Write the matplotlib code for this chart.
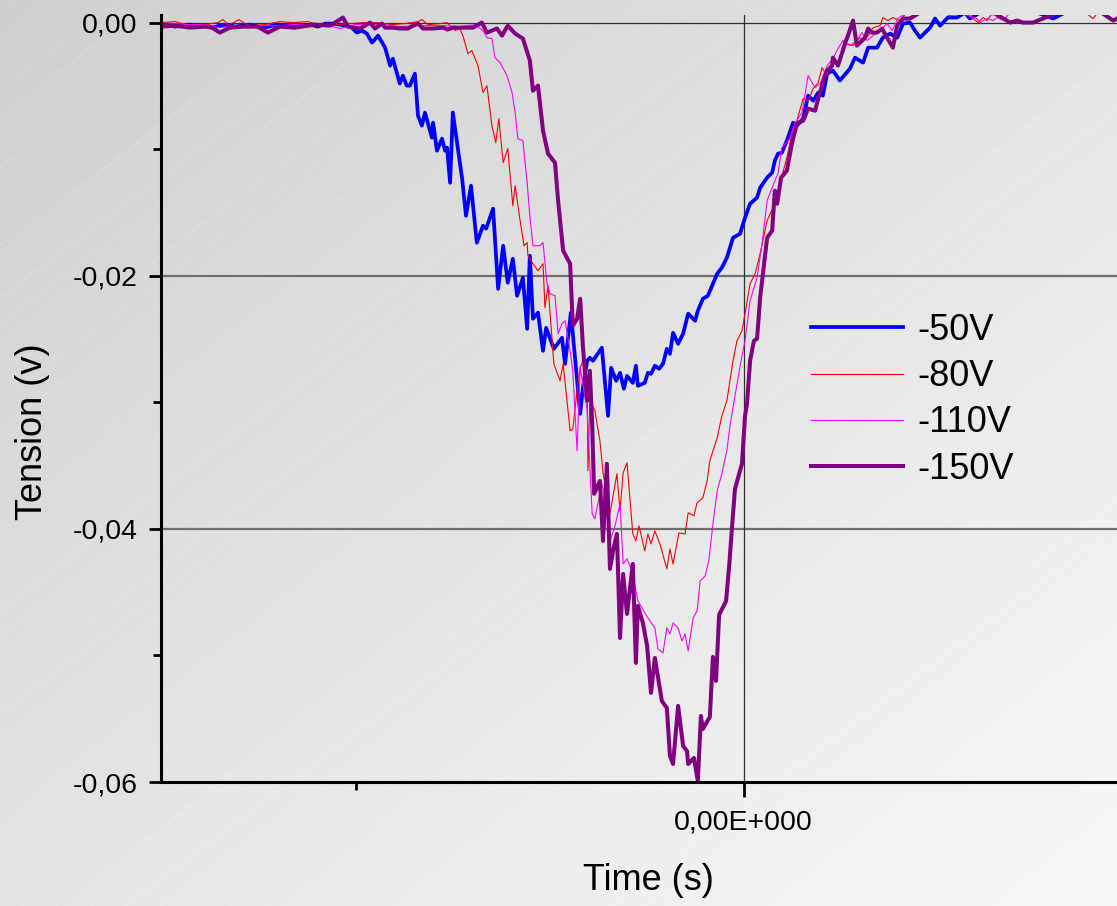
import numpy as np
import matplotlib
matplotlib.use("Agg")
import matplotlib.pyplot as plt
from matplotlib.ticker import FixedLocator, FuncFormatter

plt.rcParams['font.family'] = ['Liberation Sans', 'DejaVu Sans']

# time: one unit = spacing between the x ticks; tension in mV
t_50 = [-1.505, -1.487, -1.469, -1.451, -1.430, -1.410, -1.391, -1.373, -1.353, -1.332,
        -1.314, -1.293, -1.275, -1.255, -1.236, -1.218, -1.198, -1.177, -1.159, -1.138,
        -1.120, -1.099, -1.081, -1.061, -1.043, -1.025, -1.012, -0.999, -0.986, -0.973,
        -0.960, -0.944, -0.926, -0.913, -0.906, -0.888, -0.880, -0.870, -0.862, -0.849,
        -0.841, -0.831, -0.823, -0.805, -0.802, -0.792, -0.779, -0.771, -0.766, -0.758,
        -0.751, -0.727, -0.717, -0.704, -0.689, -0.673, -0.665, -0.647, -0.634, -0.621,
        -0.609, -0.596, -0.585, -0.570, -0.559, -0.552, -0.544, -0.531, -0.518, -0.510,
        -0.490, -0.469, -0.461, -0.446, -0.441, -0.422, -0.415, -0.404, -0.397, -0.389,
        -0.366, -0.350, -0.342, -0.329, -0.319, -0.309, -0.301, -0.286, -0.278, -0.273,
        -0.255, -0.247, -0.239, -0.229, -0.218, -0.208, -0.198, -0.190, -0.182, -0.169,
        -0.156, -0.143, -0.125, -0.118, -0.105, -0.092, -0.079, -0.068, -0.056, -0.043,
        -0.027, -0.009, 0.004, 0.017, 0.035, 0.043, 0.061, 0.074, 0.081, 0.089,
        0.099, 0.112, 0.128, 0.138, 0.154, 0.167, 0.180, 0.193, 0.205, 0.216,
        0.231, 0.249, 0.275, 0.288, 0.309, 0.322, 0.345, 0.360, 0.379, 0.397,
        0.412, 0.430, 0.443, 0.456, 0.482, 0.495, 0.508, 0.528, 0.552, 0.572,
        0.585, 0.611, 0.650, 0.689, 0.727, 0.766, 0.800, 0.831, 0.870, 0.908,
        0.947, 0.965]
v_50 = [-0.24, -0.16, -0.32, -0.24, -0.16, -0.32, -0.24, -0.40, -0.24, -0.16,
        -0.32, -0.24, -0.16, -0.32, -0.40, -0.24, -0.16, -0.24, -0.32, -0.24,
        -0.16, -0.32, -0.08, -0.08, -0.16, -0.24, -0.40, -0.79, -0.63, -0.87,
        -1.58, -1.03, -1.98, -3.40, -2.85, -4.82, -4.19, -4.98, -4.98, -4.03,
        -7.35, -8.14, -7.11, -9.09, -7.91, -10.12, -9.17, -10.12, -9.88, -12.65,
        -7.11, -12.33, -15.26, -12.89, -17.39, -16.05, -16.28, -14.70, -21.03, -17.63,
        -20.55, -18.66, -21.58, -20.16, -24.19, -18.42, -23.40, -22.92, -25.93, -24.11,
        -25.77, -24.90, -26.96, -22.92, -24.58, -30.91, -28.85, -26.72, -26.48, -26.72,
        -25.69, -31.07, -27.27, -28.30, -27.67, -28.93, -27.91, -28.46, -27.11, -28.70,
        -28.46, -27.67, -27.75, -27.11, -27.35, -26.96, -25.77, -26.17, -24.51, -25.38,
        -24.58, -23.00, -23.56, -22.77, -21.82, -21.58, -20.63, -19.84, -19.37, -18.58,
        -17.00, -16.68, -15.41, -14.31, -13.83, -13.04, -12.25, -11.86, -10.91, -10.36,
        -10.28, -9.33, -7.91, -8.14, -7.59, -5.77, -6.17, -5.53, -5.77, -4.03,
        -3.79, -4.58, -3.64, -2.77, -3.16, -1.98, -1.98, -1.19, -0.87, -1.19,
        -0.08, 0.00, -0.63, -1.19, -0.40, 0.32, -0.24, 0.40, 0.40, 0.79,
        0.32, 0.79, 0.95, 0.79, 0.95, 0.71, 0.32, 0.79, 0.95, 0.79,
        0.87, 0.79]

t_80 = [-1.505, -1.469, -1.430, -1.391, -1.358, -1.345, -1.332, -1.317, -1.304, -1.288,
        -1.270, -1.236, -1.198, -1.164, -1.125, -1.089, -1.050, -1.017, -0.983, -0.947,
        -0.908, -0.875, -0.841, -0.831, -0.815, -0.784, -0.766, -0.745, -0.733, -0.725,
        -0.712, -0.702, -0.686, -0.673, -0.663, -0.650, -0.640, -0.632, -0.621, -0.609,
        -0.596, -0.590, -0.578, -0.567, -0.559, -0.557, -0.544, -0.531, -0.518, -0.513,
        -0.505, -0.490, -0.474, -0.466, -0.448, -0.441, -0.430, -0.422, -0.415, -0.404,
        -0.402, -0.397, -0.384, -0.371, -0.363, -0.345, -0.327, -0.319, -0.311, -0.301,
        -0.286, -0.278, -0.270, -0.255, -0.247, -0.239, -0.229, -0.216, -0.198, -0.190,
        -0.182, -0.167, -0.151, -0.143, -0.128, -0.120, -0.105, -0.094, -0.087, -0.068,
        -0.056, -0.043, -0.027, -0.017, -0.004, 0.004, 0.017, 0.030, 0.043, 0.061,
        0.081, 0.094, 0.112, 0.128, 0.138, 0.154, 0.167, 0.180, 0.193, 0.203,
        0.216, 0.229, 0.242, 0.255, 0.267, 0.283, 0.301, 0.309, 0.322, 0.335,
        0.353, 0.360, 0.373, 0.386, 0.404, 0.417, 0.443, 0.469, 0.495, 0.534,
        0.572, 0.593, 0.606, 0.619, 0.629, 0.642, 0.689, 0.740, 0.792, 0.844,
        0.890, 0.903, 0.916, 0.965]
v_80 = [0.00, 0.08, -0.24, -0.16, 0.00, 0.24, -0.16, 0.00, 0.24, -0.08,
        -0.24, -0.16, 0.08, 0.00, 0.08, -0.24, -0.16, -0.08, 0.00, 0.00,
        -0.16, -0.08, 0.08, 0.24, -0.16, -0.08, 0.00, -0.63, -0.47, -1.03,
        -2.45, -2.21, -3.40, -5.53, -4.98, -8.14, -9.49, -7.59, -11.07, -9.96,
        -14.47, -12.89, -15.49, -17.63, -17.39, -18.42, -19.05, -19.60, -19.05, -22.53,
        -20.79, -26.96, -28.30, -26.96, -32.25, -32.09, -29.09, -27.27, -26.72, -27.91,
        -35.41, -29.88, -30.67, -33.04, -35.57, -38.81, -35.65, -38.58, -35.57, -34.78,
        -40.40, -40.95, -39.76, -41.74, -40.40, -41.19, -40.16, -41.19, -43.16, -41.58,
        -42.77, -40.32, -40.40, -38.73, -38.97, -37.94, -37.55, -36.21, -34.62, -32.81,
        -31.07, -29.88, -26.72, -25.14, -24.35, -23.00, -20.63, -19.84, -18.26, -15.65,
        -14.31, -12.73, -10.67, -8.30, -7.75, -6.01, -6.17, -5.22, -4.74, -3.56,
        -4.19, -3.24, -3.16, -2.37, -1.66, -1.82, -1.19, -1.42, -1.03, -0.40,
        -0.24, 0.40, 0.16, 0.40, 0.16, 0.63, 0.79, 0.63, 0.79, 0.63,
        0.79, 0.32, 0.00, 0.40, 0.16, 0.71, 0.87, 0.79, 0.95, 0.79,
        0.63, 0.32, 0.79, 0.87]

t_110 = [-1.505, -1.469, -1.430, -1.391, -1.353, -1.314, -1.275, -1.236, -1.198, -1.159,
         -1.120, -1.081, -1.043, -1.004, -0.965, -0.926, -0.888, -0.849, -0.810, -0.771,
         -0.733, -0.694, -0.673, -0.663, -0.650, -0.642, -0.629, -0.611, -0.598, -0.590,
         -0.583, -0.570, -0.559, -0.552, -0.544, -0.526, -0.518, -0.508, -0.500, -0.487,
         -0.479, -0.469, -0.461, -0.448, -0.441, -0.430, -0.422, -0.404, -0.391, -0.384,
         -0.366, -0.358, -0.345, -0.332, -0.319, -0.311, -0.301, -0.288, -0.273, -0.255,
         -0.247, -0.229, -0.221, -0.208, -0.198, -0.190, -0.182, -0.169, -0.159, -0.151,
         -0.143, -0.130, -0.120, -0.112, -0.099, -0.089, -0.079, -0.068, -0.056, -0.043,
         -0.035, -0.022, -0.004, 0.004, 0.017, 0.035, 0.048, 0.061, 0.076, 0.089,
         0.099, 0.120, 0.133, 0.151, 0.167, 0.185, 0.198, 0.216, 0.231, 0.244,
         0.257, 0.275, 0.293, 0.306, 0.319, 0.335, 0.353, 0.371, 0.384, 0.399,
         0.417, 0.456, 0.508, 0.559, 0.603, 0.611, 0.629, 0.645, 0.655, 0.671,
         0.689, 0.740, 0.792, 0.844, 0.895, 0.965]
v_110 = [-0.16, -0.08, -0.16, -0.16, -0.40, -0.24, -0.32, -0.24, -0.24, -0.16,
         -0.16, -0.16, -0.47, -0.16, -0.16, -0.16, -0.32, -0.24, -0.24, -0.24,
         -0.32, -0.16, -0.63, -1.19, -1.26, -2.77, -3.16, -4.19, -5.53, -7.11,
         -9.17, -9.33, -12.65, -15.26, -17.63, -17.63, -17.39, -20.55, -21.42, -21.58,
         -24.58, -23.79, -23.56, -25.93, -27.51, -33.83, -27.27, -30.67, -38.81, -39.21,
         -36.44, -37.39, -40.95, -39.76, -38.02, -42.77, -42.37, -43.32, -45.69, -46.64,
         -47.03, -47.83, -49.49, -49.80, -47.83, -48.30, -47.43, -47.83, -48.85, -48.30,
         -49.64, -47.03, -46.48, -44.11, -43.72, -42.37, -39.60, -37.00, -35.65, -33.83,
         -31.86, -29.49, -26.32, -25.14, -21.98, -20.16, -17.47, -14.07, -12.89, -11.94,
         -9.88, -9.17, -7.98, -7.11, -4.19, -5.14, -4.82, -3.40, -2.85, -2.06,
         -1.42, -1.82, -1.42, -0.79, -1.42, -1.03, -0.63, -0.08, -0.63, 0.32,
         0.71, 0.79, 0.63, 0.79, 0.32, 0.00, 0.32, 0.16, 0.40, 0.16,
         0.79, 0.87, 0.71, 0.87, 0.79, 0.87]

t_150 = [-1.505, -1.469, -1.430, -1.391, -1.373, -1.353, -1.327, -1.293, -1.255, -1.229,
         -1.198, -1.159, -1.107, -1.068, -1.035, -1.022, -0.991, -0.965, -0.952, -0.934,
         -0.926, -0.906, -0.888, -0.867, -0.854, -0.841, -0.828, -0.802, -0.776, -0.764,
         -0.751, -0.733, -0.699, -0.676, -0.663, -0.637, -0.624, -0.609, -0.590, -0.570,
         -0.552, -0.544, -0.531, -0.518, -0.505, -0.487, -0.479, -0.466, -0.448, -0.441,
         -0.430, -0.422, -0.415, -0.404, -0.397, -0.391, -0.386, -0.371, -0.363, -0.353,
         -0.345, -0.337, -0.327, -0.319, -0.311, -0.301, -0.286, -0.278, -0.273, -0.260,
         -0.249, -0.239, -0.229, -0.211, -0.198, -0.190, -0.182, -0.169, -0.156, -0.146,
         -0.143, -0.128, -0.118, -0.110, -0.105, -0.087, -0.079, -0.071, -0.063, -0.045,
         -0.037, -0.030, -0.022, -0.004, 0.004, 0.009, 0.017, 0.027, 0.035, 0.043,
         0.061, 0.074, 0.081, 0.087, 0.097, 0.112, 0.125, 0.138, 0.154, 0.167,
         0.185, 0.193, 0.205, 0.216, 0.229, 0.231, 0.244, 0.255, 0.262, 0.270,
         0.283, 0.293, 0.301, 0.314, 0.322, 0.332, 0.345, 0.358, 0.371, 0.386,
         0.397, 0.412, 0.430, 0.456, 0.495, 0.534, 0.572, 0.611, 0.650, 0.676,
         0.689, 0.707, 0.722, 0.748, 0.774, 0.792, 0.818, 0.870, 0.921, 0.955,
         0.965]
v_150 = [-0.32, -0.24, -0.40, -0.32, -0.40, -0.79, -0.40, -0.32, -0.32, -0.79,
         -0.32, -0.40, -0.16, -0.24, 0.40, -0.32, -0.47, 0.00, -0.47, -0.08,
         -0.40, -0.40, -0.47, -0.47, -0.24, -0.08, -0.47, -0.47, -0.40, -0.55,
         -0.40, -0.40, -0.40, 0.00, -0.79, -0.47, -1.03, -0.24, -0.87, -1.26,
         -3.00, -5.38, -4.98, -8.54, -10.36, -11.07, -14.07, -18.02, -19.05, -23.95,
         -23.40, -21.82, -25.53, -29.88, -27.51, -31.70, -37.23, -36.21, -40.95, -34.86,
         -43.16, -41.74, -40.40, -48.62, -43.56, -46.72, -42.77, -50.59, -46.09, -47.43,
         -49.25, -52.96, -50.20, -53.60, -54.15, -57.94, -58.58, -53.99, -57.16, -57.55,
         -58.58, -58.10, -59.92, -54.78, -55.81, -54.86, -50.12, -52.01, -46.80, -45.69,
         -42.92, -40.00, -36.84, -34.86, -31.07, -30.12, -26.72, -25.14, -24.98, -21.74,
         -17.00, -16.44, -13.28, -14.31, -12.25, -11.70, -9.57, -7.98, -7.75, -6.80,
         -6.96, -6.01, -4.74, -3.79, -3.40, -2.77, -3.40, -2.37, -1.66, -1.03,
         0.16, -1.82, -1.58, -1.19, -0.47, -0.79, -0.79, -0.47, -1.19, -1.98,
         -0.24, 0.32, 0.32, 0.79, 0.95, 0.71, 0.79, 0.87, 0.71, 0.24,
         0.00, 0.16, 0.00, 0.00, 0.32, 0.55, 0.87, 0.79, 0.87, 0.16,
         0.32]

labels = ['-50V', '-80V', '-110V', '-150V']
colors = ['#0000ff', '#ff0000', '#ff00ff', '#800080']
widths = [2.7, 0.8, 0.8, 2.9]
series = [(t_50, v_50), (t_80, v_80), (t_110, v_110), (t_150, v_150)]

W, H = 1117, 906
fig = plt.figure(figsize=(W / 100, H / 100), dpi=100)

# grey gradient background with faint diagonal streaks
bg = fig.add_axes([0, 0, 1, 1], zorder=-10)
xx, yy = np.meshgrid(np.linspace(0, 1, 300), np.linspace(0, 1, 300))
shade = 0.81 + 0.16 * (xx + yy) / 2
bg.imshow(shade, cmap='gray', vmin=0, vmax=1, extent=[0, W, 0, H],
          origin='upper', aspect='auto', interpolation='bilinear')
for c in np.arange(-900, 906, 26):
    bg.plot([0, W], [c, c + 0.75 * W], color='white', lw=0.6, alpha=0.2)
bg.set_xlim(0, W)
bg.set_ylim(0, H)
bg.axis('off')

ax = fig.add_axes([161 / W, (H - 782) / H, (W - 161) / W, (782 - 15) / H])
ax.set_facecolor('none')

ax.axhline(0, color='#303030', lw=0.9, zorder=1)
ax.axhline(-0.02, color='#6e6e6e', lw=1.6, zorder=1)
ax.axhline(-0.04, color='#6e6e6e', lw=1.6, zorder=1)
ax.axvline(0, color='#303030', lw=0.9, zorder=1)

for (t, v), c, lw, lab in zip(series, colors, widths, labels):
    ax.plot(t, np.array(v) / 1000, color=c, lw=lw, label=lab, zorder=2)

ax.set_xlim(-1.505, 0.965)
ax.set_ylim(-0.06, 0.0006)

for s in ['top', 'right']:
    ax.spines[s].set_visible(False)
for s in ['left', 'bottom']:
    ax.spines[s].set_linewidth(2.2)
    ax.spines[s].set_color('black')

ax.yaxis.set_major_locator(FixedLocator([0, -0.02, -0.04, -0.06]))
ax.yaxis.set_minor_locator(FixedLocator([-0.01, -0.03, -0.05]))
ax.yaxis.set_major_formatter(FuncFormatter(
    lambda y, p: '0,00' if abs(y) < 1e-9 else f'{y:.2f}'.replace('.', ',')))
ax.xaxis.set_major_locator(FixedLocator([0]))
ax.xaxis.set_minor_locator(FixedLocator([-1]))
ax.xaxis.set_major_formatter(FuncFormatter(lambda x, p: '0,00E+000'))

ax.tick_params(axis='y', which='major', length=9, width=2, pad=8, labelsize=20.5)
ax.tick_params(axis='y', which='minor', length=5.5, width=2)
ax.tick_params(axis='x', which='major', length=11, width=2, pad=9, labelsize=20.5)
ax.tick_params(axis='x', which='minor', length=5.5, width=2)

fig.text(648 / W, 1 - 880 / H, 'Time (s)', ha='center', va='center', fontsize=26)
fig.text(33 / W, 1 - 432 / H, 'Tension (v)', rotation=90, ha='center',
         va='center', fontsize=26)

ax.legend(loc='upper left', bbox_to_anchor=(811 / W, 1 - 313 / H),
          bbox_transform=fig.transFigure, frameon=False, fontsize=26,
          handlelength=2.55, handletextpad=0.4, labelspacing=0.31,
          borderpad=0, borderaxespad=0)

fig.savefig('out.png', dpi=100)
